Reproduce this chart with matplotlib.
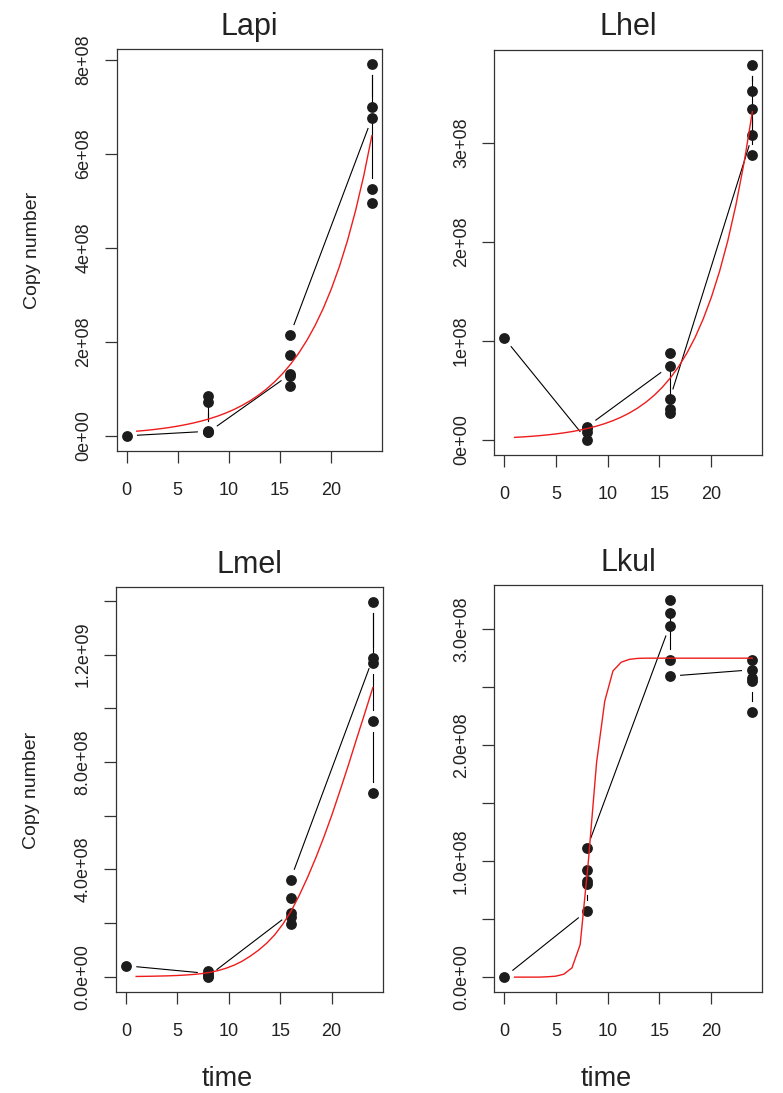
import numpy as np
import matplotlib
matplotlib.use("Agg")
import matplotlib.pyplot as plt

plt.rcParams['font.family'] = ['Liberation Sans', 'DejaVu Sans']

# measured copies (millions), in the order they were plotted
lapi_time = [0, 8, 8, 8, 8, 8, 16, 16, 16, 16, 16, 24, 24, 24, 24, 24]
lapi_copies = [0.3, 10, 84, 72, 9, 8, 131, 106, 128, 173, 215, 676, 791, 699, 526, 496]

lhel_time = [0, 8, 8, 8, 8, 16, 16, 16, 16, 16, 24, 24, 24, 24, 24]
lhel_copies = [103, 0, 8.4, 12, 13.5, 74.7, 87.5, 30.9, 27.6, 41, 308, 379, 353, 335, 288]

lmel_time = [0, 8, 8, 8, 8, 16, 16, 16, 16, 16, 24, 24, 24, 24, 24]
lmel_copies = [41, 12, 22, 0, 2, 236, 221, 198, 293, 362, 1186, 1395, 1170, 953, 686]

lkul_time = [0, 8, 8, 8, 8, 8, 16, 16, 16, 16, 16, 24, 24, 24, 24, 24]
lkul_copies = [0, 57, 80, 83, 92, 111, 303, 314, 325, 273, 259.5, 265, 273, 258, 255, 229]

# fitted curves (red)
fit_time = [1.000, 1.793, 2.586, 3.379, 4.172, 4.966, 5.759, 6.552, 7.345, 8.138,
            8.931, 9.724, 10.517, 11.310, 12.103, 12.897, 13.690, 14.483, 15.276, 16.069,
            16.862, 17.655, 18.448, 19.241, 20.034, 20.828, 21.621, 22.414, 23.207, 24.000]
lapi_fit = [10.2, 11.7, 13.5, 15.6, 18.0, 20.8, 24.0, 27.7, 31.9, 36.8,
            42.4, 48.9, 56.4, 65.1, 75.1, 86.6, 99.9, 115.2, 132.9, 153.3,
            176.8, 203.9, 235.2, 271.3, 312.9, 360.9, 416.3, 480.2, 553.9, 638.9]
lhel_fit = [2.65, 3.13, 3.70, 4.37, 5.16, 6.10, 7.20, 8.51, 10.05, 11.87,
            14.02, 16.56, 19.56, 23.11, 27.29, 32.24, 38.08, 44.98, 53.13, 62.76,
            74.13, 87.56, 103.4, 122.2, 144.3, 170.5, 201.3, 237.8, 280.9, 331.8]
lmel_fit = [1.0, 1.4, 1.9, 2.6, 3.4, 4.6, 6.2, 8.4, 11.5, 16,
            22.5, 31.5, 43, 58, 77, 99, 125, 157, 197, 245,
            304, 370, 442, 520, 604, 695, 788, 885, 980, 1077]
lkul_fit = [0, 0, 0, 0, 0.3, 0.8, 2.5, 8, 28, 100,
            185, 238, 264, 271.5, 274, 274.8, 275, 275, 275, 275,
            275, 275, 275, 275, 275, 275, 275, 275, 275, 275]

x_ticks = [0, 5, 10, 15, 20]
lapi_yticks = [0, 2e8, 4e8, 6e8, 8e8]
lapi_ylabels = ["0e+00", "2e+08", "4e+08", "6e+08", "8e+08"]
lhel_yticks = [0, 1e8, 2e8, 3e8]
lhel_ylabels = ["0e+00", "1e+08", "2e+08", "3e+08"]
lmel_yticks = [0, 2e8, 4e8, 6e8, 8e8, 1e9, 1.2e9, 1.4e9]
lmel_ylabels = ["0.0e+00", "", "4.0e+08", "", "8.0e+08", "", "1.2e+09", ""]
lkul_yticks = [0, 5e7, 1e8, 1.5e8, 2e8, 2.5e8, 3e8]
lkul_ylabels = ["0.0e+00", "", "1.0e+08", "", "2.0e+08", "", "3.0e+08"]

W, H = 783, 1093
fig = plt.figure(figsize=(W / 100, H / 100), dpi=100)

INK = '#222222'
GAP = 11.0  # px gap left around points (R type="b")


def box(l, t, r, b):
    return [l / W, 1 - b / H, (r - l) / W, (b - t) / H]


def connect_b(ax, xs, ys):
    pts = ax.transData.transform(np.column_stack([xs, ys]))
    inv = ax.transData.inverted()
    for p0, p1 in zip(pts[:-1], pts[1:]):
        d = p1 - p0
        dist = np.hypot(d[0], d[1])
        if dist <= 2 * GAP:
            continue
        u = d / dist
        a = inv.transform(p0 + u * GAP)
        b = inv.transform(p1 - u * GAP)
        ax.plot([a[0], b[0]], [a[1], b[1]], color='black', lw=0.8, zorder=2)


def panel(rect, name, t, y, fit, yticks, ylabels):
    ax = fig.add_axes(rect)
    y = np.array(y) * 1e6
    fy = np.array(fit) * 1e6
    xr = max(t) - min(t)
    ax.set_xlim(min(t) - 0.04 * xr, max(t) + 0.04 * xr)
    yr = y.max() - y.min()
    ax.set_ylim(y.min() - 0.04 * yr, y.max() + 0.04 * yr)
    ax.plot(t, y, 'o', color='#1c1c1c', ms=7.8, mec='none', zorder=3)
    connect_b(ax, t, y)
    ax.plot(fit_time, fy, color='#ee1c1c', lw=1.0, zorder=4)
    ax.set_xticks(x_ticks)
    ax.set_xticklabels([str(v) for v in x_ticks])
    ax.set_yticks(yticks)
    ax.set_yticklabels(ylabels, rotation=90, va='center')
    ax.tick_params(axis='both', direction='out', length=8.5, width=0.9,
                   colors='#333333', labelcolor=INK, labelsize=13)
    ax.tick_params(axis='x', pad=14.0)
    ax.tick_params(axis='y', pad=9.0)
    for s in ax.spines.values():
        s.set_color('#333333')
        s.set_linewidth(0.9)
    ax.set_title(name, fontsize=22, color=INK, pad=10.5)
    return ax


panel(box(116.7, 49.3, 381.7, 450.7), "Lapi", lapi_time, lapi_copies, lapi_fit,
      lapi_yticks, lapi_ylabels)
panel(box(494.3, 50.0, 762.3, 455.0), "Lhel", lhel_time, lhel_copies, lhel_fit,
      lhel_yticks, lhel_ylabels)
panel(box(116.0, 587.3, 382.7, 991.7), "Lmel", lmel_time, lmel_copies, lmel_fit,
      lmel_yticks, lmel_ylabels)
panel(box(494.3, 585.1, 762.3, 992.2), "Lkul", lkul_time, lkul_copies, lkul_fit,
      lkul_yticks, lkul_ylabels)

# axis titles
fig.text(32.5 / W, 1 - 250 / H, "Copy number", rotation=90, ha='center', va='center',
         fontsize=14, color=INK)
fig.text(31.5 / W, 1 - 790 / H, "Copy number", rotation=90, ha='center', va='center',
         fontsize=14, color=INK)
fig.text(227.5 / W, 1 - 1086.5 / H, "time", ha='center', va='baseline', fontsize=19.5,
         color=INK)
fig.text(606.5 / W, 1 - 1086.5 / H, "time", ha='center', va='baseline', fontsize=19.5,
         color=INK)

fig.savefig("out.png", dpi=100, facecolor='white')
